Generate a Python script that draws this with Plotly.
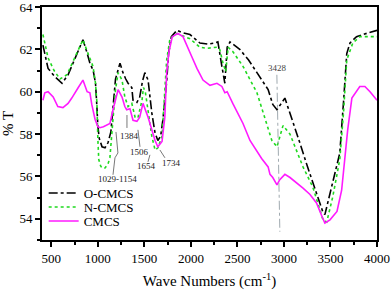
import plotly.graph_objects as go

# ---- data ----
o_wn = [410, 465, 540, 615, 680, 760, 840, 880, 915, 950, 975, 990, 1000, 1015, 1045, 1077, 1110, 1140,
        1163, 1190, 1238, 1270, 1300, 1325, 1365, 1378, 1420, 1450, 1480, 1505, 1540, 1580, 1615, 1645,
        1675, 1700, 1740, 1760, 1790, 1850, 1900, 1990, 2097, 2180, 2260, 2290, 2333, 2365, 2390, 2420,
        2525, 2620, 2710, 2830, 2880, 2925, 3010, 3065, 3170, 3250, 3330, 3420, 3440, 3525, 3600, 3640,
        3675, 3710, 3780, 3920, 4000]
o_t = [62.2, 61.1, 60.7, 60.4, 60.8, 61.6, 62.45, 61.9, 61.35, 61.0, 60.4, 59.3, 58.4, 57.8, 57.4, 57.35,
       57.6, 58.1, 59.2, 60.6, 61.35, 60.9, 60.6, 60.4, 60.2, 59.6, 59.5, 59.75, 60.5, 60.9, 60.55, 59.0,
       58.05, 57.7, 57.9, 58.7, 60.5, 61.8, 62.6, 62.9, 62.8, 62.7, 62.3, 62.25, 62.3, 62.35, 61.2, 60.4,
       62.1, 62.35, 62.0, 61.5, 60.9, 60.1, 59.4, 59.15, 59.7, 59.0, 57.6, 56.5, 55.5, 54.3, 54.2, 55.7,
       57.1, 59.5, 61.8, 62.3, 62.6, 62.8, 62.9]

n_wn = [410, 465, 530, 593, 668, 760, 840, 895, 948, 975, 990, 1000, 1010, 1030, 1045, 1077, 1110, 1130,
        1150, 1163, 1190, 1218, 1260, 1290, 1325, 1365, 1400, 1430, 1475, 1490, 1510, 1540, 1580, 1615,
        1645, 1690, 1720, 1740, 1775, 1850, 1990, 2097, 2170, 2280, 2310, 2345, 2375, 2400, 2450, 2560,
        2710, 2815, 2870, 2925, 2990, 3065, 3205, 3310, 3380, 3420, 3460, 3525, 3600, 3640, 3675, 3740,
        3815, 4000]
n_t = [62.7, 61.6, 61.0, 60.6, 60.8, 61.7, 62.45, 61.8, 61.2, 60.4, 59.5, 57.8, 56.8, 56.5, 56.4, 56.4,
       56.6, 56.9, 57.8, 58.7, 60.1, 60.9, 60.55, 59.75, 59.3, 59.45, 58.8, 58.75, 59.6, 60.2, 60.0, 59.0,
       57.9, 57.25, 57.35, 57.9, 59.9, 61.5, 62.5, 62.75, 62.5, 62.1, 62.05, 62.1, 62.0, 61.35, 60.95,
       62.1, 61.9, 61.2, 59.95, 58.5, 57.7, 57.4, 58.4, 58.0, 56.45, 55.5, 54.5, 53.95, 53.85, 55.05,
       56.8, 59.0, 61.5, 62.3, 62.6, 62.6]

c_wn = [410, 430, 465, 520, 570, 625, 680, 720, 790, 840, 885, 915, 935, 970, 1000, 1023, 1060, 1098,
        1130, 1163, 1218, 1260, 1290, 1310, 1345, 1378, 1420, 1450, 1485, 1540, 1580, 1615, 1645, 1690,
        1720, 1740, 1765, 1800, 1860, 1915, 2010, 2065, 2130, 2205, 2280, 2333, 2365, 2390, 2450, 2560,
        2635, 2710, 2760, 2830, 2850, 2880, 2925, 2955, 3010, 3065, 3140, 3205, 3280, 3350, 3410, 3440,
        3495, 3570, 3620, 3655, 3685, 3730, 3815, 3870, 3925, 4000]
c_t = [59.6, 59.95, 60.0, 59.75, 59.3, 59.25, 59.45, 59.7, 60.2, 60.55, 60.0, 59.95, 59.4, 58.7, 58.35,
       58.3, 58.35, 58.45, 58.5, 59.15, 60.1, 59.75, 59.3, 59.15, 59.2, 58.65, 58.6, 58.8, 59.45, 58.8,
       58.2, 57.7, 57.4, 57.65, 58.8, 60.9, 61.9, 62.6, 62.75, 62.6, 61.65, 61.1, 60.55, 60.3, 60.4,
       60.25, 59.95, 60.0, 59.45, 58.5, 57.7, 57.15, 56.85, 56.45, 56.1, 55.95, 55.6, 55.85, 56.1, 55.95,
       55.7, 55.45, 55.15, 54.75, 54.1, 53.8, 53.95, 54.35, 55.35, 56.8, 58.2, 59.7, 60.25, 60.25, 60.0,
       59.6]

x_ticks = [500, 1000, 1500, 2000, 2500, 3000, 3500, 4000]
y_ticks = [54, 56, 58, 60, 62, 64]

# peak labels: text, label position, leader line points
peak_labels = ["1029-1154", "1384", "1506", "1654", "1734"]
label_pos = [(1206, 55.89), (1345, 57.92), (1453, 57.16), (1528, 56.5), (1796, 56.64)]
leader_x = [[1163, 1184, 1216, 1195], [1313, 1313], [1453, 1431], [1539, 1560], [1721, 1667]]
leader_y = [[56.08, 56.88, 57.11, 58.1], [58.29, 58.9], [57.4, 58.2], [56.69, 57.02], [56.88, 57.25]]
band_label = "3428"
band_line_x = [2924, 2956]
band_line_y = [60.8, 53.39]

FONT = "Liberation Serif"

fig = go.Figure()
fig.add_trace(go.Scatter(x=o_wn, y=o_t, mode="lines", name="O-CMCS", legend="legend",
                         line=dict(color="black", width=1.6, dash="dashdot")))
fig.add_trace(go.Scatter(x=n_wn, y=n_t, mode="lines", name="N-CMCS", legend="legend2",
                         line=dict(color="#1fd91f", width=1.6, dash="dot")))
fig.add_trace(go.Scatter(x=c_wn, y=c_t, mode="lines", name="CMCS", legend="legend3",
                         line=dict(color="#ff1aff", width=1.6)))

for lx, ly in zip(leader_x, leader_y):
    fig.add_trace(go.Scatter(x=lx, y=ly, mode="lines", showlegend=False, hoverinfo="skip",
                             line=dict(color="#555555", width=0.8)))
fig.add_trace(go.Scatter(x=band_line_x, y=band_line_y, mode="lines", showlegend=False, hoverinfo="skip",
                         line=dict(color="#a0aab0", width=1, dash="dashdot")))

for txt, (px, py) in zip(peak_labels, label_pos):
    fig.add_annotation(x=px, y=py, text=txt, showarrow=False,
                       font=dict(family=FONT, size=9, color="#222222"))
fig.add_annotation(x=2935, y=61.12, text=band_label, showarrow=False,
                   font=dict(family=FONT, size=9, color="#444444"))

axis_common = dict(showline=True, linewidth=2, linecolor="black", mirror=True,
                   ticks="outside", ticklen=5, tickwidth=1.5, tickcolor="black",
                   showgrid=False, zeroline=False, automargin=False, ticklabeloverflow="allow",
                   tickfont=dict(family=FONT, size=13, color="black"))

fig.update_xaxes(range=[400, 4000], tickvals=x_ticks,
                 minor=dict(ticks="outside", dtick=250, ticklen=3, tickcolor="black"),
                 title=dict(text="Wave Numbers (cm<sup>-1</sup>)", font=dict(family=FONT, size=15, color="black"),
                            standoff=12),
                 **axis_common)
fig.update_yaxes(range=[53, 64], tickvals=y_ticks,
                 minor=dict(ticks="outside", dtick=1, ticklen=3, tickcolor="black"),
                 title=dict(text="% T", font=dict(family=FONT, size=15, color="black"), standoff=8),
                 **axis_common)

leg_common = dict(x=0.005, xanchor="left", yanchor="middle", bgcolor="rgba(0,0,0,0)",
                  font=dict(family=FONT, size=13, color="black"), itemwidth=30)
fig.update_layout(
    width=392, height=290,
    margin=dict(l=42, r=15, t=7, b=50, autoexpand=False),
    plot_bgcolor="white", paper_bgcolor="white",
    showlegend=True,
    legend=dict(y=0.2017, **leg_common),
    legend2=dict(y=0.1416, **leg_common),
    legend3=dict(y=0.0815, **leg_common),
)

# remove the default page margin so the figure sits at the window's top-left corner
fig.write_html("out.html", config={"displayModeBar": False},
               post_script="document.body.style.margin='0';")
